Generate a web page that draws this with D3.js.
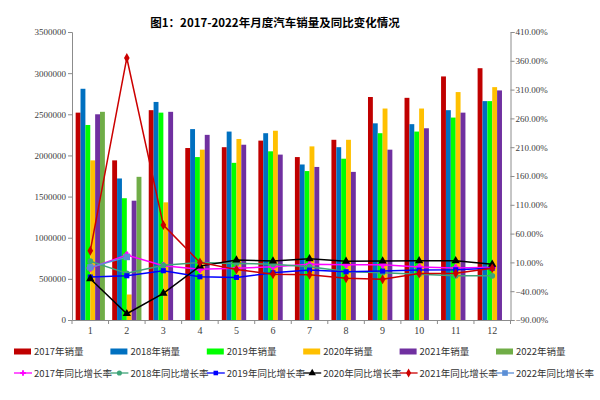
<!DOCTYPE html>
<html>
<head>
<meta charset="utf-8">
<script src="https://cdn.jsdelivr.net/npm/d3@7/dist/d3.min.js"></script>
<style>
  body { margin: 0; background: #fff; }
  svg { display: block; }
</style>
</head>
<body>
<script>
// months on the x axis
var months = ["1", "2", "3", "4", "5", "6", "7", "8", "9", "10", "11", "12"];
var years = ["2017", "2018", "2019", "2020", "2021", "2022"];

// monthly sales (vehicles)
var sales2017 = [2520000, 1940000, 2550000, 2090000, 2100000, 2180000, 1980000, 2190000, 2710000, 2700000, 2960000, 3060000];
var sales2018 = [2810000, 1720000, 2650000, 2320000, 2290000, 2270000, 1890000, 2100000, 2390000, 2380000, 2550000, 2660000];
var sales2019 = [2370000, 1480000, 2520000, 1980000, 1910000, 2050000, 1810000, 1960000, 2270000, 2290000, 2460000, 2660000];
var sales2020 = [1940000, 310000, 1430000, 2070000, 2200000, 2300000, 2110000, 2190000, 2570000, 2570000, 2770000, 2830000];
var sales2021 = [2500000, 1450000, 2530000, 2250000, 2130000, 2010000, 1860000, 1800000, 2070000, 2330000, 2520000, 2790000];
var sales2022 = [2530000, 1740000];

// year-on-year growth rate
var growth2017 = [0.002, 0.227, 0.042, -0.02, -0.003, 0.025, 0.066, 0.06, 0.06, 0.019, 0.004, 0.014];
var growth2018 = [0.12, -0.09, 0.05, 0.10, 0.083, 0.068, 0.025, -0.06, -0.08, -0.106, -0.132, -0.132];
var growth2019 = [-0.154, -0.132, -0.045, -0.15, -0.16, -0.08, -0.033, -0.063, -0.05, -0.033, -0.028, -0.003];
var growth2020 = [-0.184, -0.791, -0.437, 0.036, 0.14, 0.123, 0.163, 0.118, 0.123, 0.128, 0.128, 0.066];
var growth2021 = [0.302, 3.649, 0.748, 0.10, -0.025, -0.105, -0.115, -0.177, -0.194, -0.094, -0.09, -0.003];
var growth2022 = [0.014, 0.193];

var leftTicks = [0, 500000, 1000000, 1500000, 2000000, 2500000, 3000000, 3500000];
var rightTicks = [-0.9, -0.4, 0.1, 0.6, 1.1, 1.6, 2.1, 2.6, 3.1, 3.6, 4.1];

var barColors = ["#c00000", "#0070c0", "#00ff00", "#ffc000", "#7030a0", "#70ad47"];
var lineColors = ["#ff00ff", "#3ea579", "#0000ff", "#000000", "#cc0000", "#5b8fd6"];
var markers = [d3.symbolCross, d3.symbolCircle, d3.symbolSquare, d3.symbolTriangle, d3.symbolDiamond, d3.symbolSquare];
var markerSizes = [22, 26, 26, 30, 28, 40];

var salesData = [sales2017, sales2018, sales2019, sales2020, sales2021, sales2022];
var growthData = [growth2017, growth2018, growth2019, growth2020, growth2021, growth2022];

var width = 600, height = 400;
var margin = {top: 32, right: 89.5, bottom: 80, left: 72};

var svg = d3.select("body").append("svg")
  .attr("width", width)
  .attr("height", height);

var x = d3.scaleBand()
  .domain(months)
  .range([margin.left, width - margin.right])
  .padding(0);

var bw = x.bandwidth();

var x1 = d3.scaleBand()
  .domain(years)
  .range([bw * 0.1, bw * 0.9])
  .padding(0);

var y = d3.scaleLinear()
  .domain([0, 3500000])
  .range([height - margin.bottom, margin.top]);

var yR = d3.scaleLinear()
  .domain([-0.9, 4.1])
  .range([height - margin.bottom, margin.top]);

// title
svg.append("text")
  .attr("x", 275)
  .attr("y", 27)
  .attr("text-anchor", "middle")
  .style("font-family", "'Noto Sans CJK SC', sans-serif")
  .style("font-weight", "bold")
  .style("font-size", "11.5px")
  .style("fill", "#000")
  .text("图1：2017-2022年月度汽车销量及同比变化情况");

// bars
years.forEach(function(yr, i) {
  svg.append("g")
    .selectAll("rect")
    .data(salesData[i])
    .enter().append("rect")
    .attr("x", function(d, j) { return x(months[j]) + x1(yr); })
    .attr("y", function(d) { return y(d); })
    .attr("width", x1.bandwidth())
    .attr("height", function(d) { return y(0) - y(d); })
    .style("fill", barColors[i]);
});

// axes
var axisColor = "#8c8c8c";
var tickFont = "'Liberation Serif', 'DejaVu Serif', serif";

var leftAxis = svg.append("g")
  .attr("transform", "translate(" + margin.left + ",0)")
  .call(d3.axisLeft(y).tickValues(leftTicks).tickFormat(d3.format("d")).tickSize(4).tickPadding(2));

var rightAxis = svg.append("g")
  .attr("transform", "translate(" + (width - margin.right) + ",0)")
  .call(d3.axisRight(yR).tickValues(rightTicks).tickFormat(d3.format(".2%")).tickSize(4).tickPadding(1));

var bottomAxis = svg.append("g")
  .attr("transform", "translate(0," + (height - margin.bottom) + ")")
  .call(d3.axisBottom(x).tickSize(0).tickPadding(7));

// tick marks between months
bottomAxis.selectAll(".sep")
  .data(months.concat(["end"]))
  .enter().append("line")
  .attr("class", "sep")
  .attr("x1", function(d, j) { return j < months.length ? x(d) : x(months[months.length - 1]) + bw; })
  .attr("x2", function(d, j) { return j < months.length ? x(d) : x(months[months.length - 1]) + bw; })
  .attr("y1", 0)
  .attr("y2", 4)
  .attr("stroke", axisColor);

[leftAxis, rightAxis, bottomAxis].forEach(function(g) {
  g.selectAll("path, line").attr("stroke", axisColor);
  g.selectAll("text")
    .style("font-family", tickFont)
    .style("font-size", "9px")
    .style("fill", "#404040");
});
bottomAxis.selectAll("text").style("font-size", "10px");

// growth lines
var line = d3.line()
  .x(function(d, j) { return x(months[j]) + bw / 2; })
  .y(function(d) { return yR(d); });

years.forEach(function(yr, i) {
  svg.append("path")
    .datum(growthData[i])
    .attr("d", line)
    .attr("fill", "none")
    .attr("stroke", lineColors[i])
    .attr("stroke-width", 1.5);

  svg.append("g")
    .selectAll("path")
    .data(growthData[i])
    .enter().append("path")
    .attr("transform", function(d, j) { return "translate(" + (x(months[j]) + bw / 2) + "," + yR(d) + ")"; })
    .attr("d", d3.symbol().type(markers[i]).size(markerSizes[i]))
    .style("fill", lineColors[i])
    .style("stroke", i == 0 ? lineColors[i] : "none");
});

// legend
var legendFont = "'Noto Sans CJK SC', 'Noto Sans', sans-serif";
var colStep = 96.4;

var legend1 = svg.append("g");
years.forEach(function(yr, i) {
  var lx = 14 + i * colStep;
  legend1.append("rect")
    .attr("x", lx)
    .attr("y", 348.5)
    .attr("width", 17)
    .attr("height", 6)
    .style("fill", barColors[i]);
  legend1.append("text")
    .attr("x", lx + 20)
    .attr("y", 355)
    .style("font-family", legendFont)
    .style("font-size", "9.5px")
    .style("fill", "#333")
    .text(yr + "年销量");
});

var legend2 = svg.append("g");
years.forEach(function(yr, i) {
  var lx = 14 + i * colStep;
  legend2.append("line")
    .attr("x1", lx)
    .attr("x2", lx + 18)
    .attr("y1", 373)
    .attr("y2", 373)
    .attr("stroke", lineColors[i])
    .attr("stroke-width", 1.3);
  legend2.append("path")
    .attr("transform", "translate(" + (lx + 9) + ",373)")
    .attr("d", d3.symbol().type(markers[i]).size(markerSizes[i] * 0.8))
    .style("fill", lineColors[i]);
  legend2.append("text")
    .attr("x", lx + 20)
    .attr("y", 376.5)
    .style("font-family", legendFont)
    .style("font-size", "9.5px")
    .style("fill", "#333")
    .text(yr + "年同比增长率");
});
</script>
</body>
</html>
